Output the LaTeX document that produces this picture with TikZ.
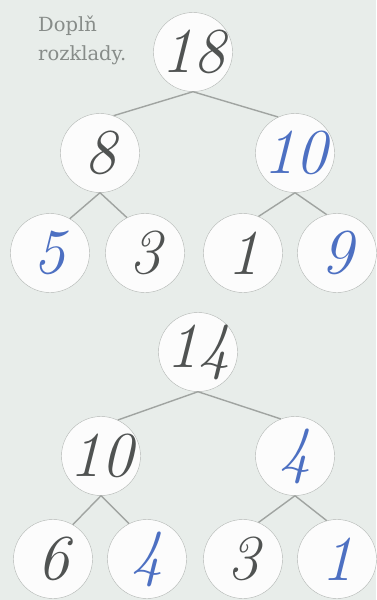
\documentclass[tikz,border=0pt]{standalone}
\usepackage{fontspec}
\newfontfamily\notefont{DejaVu Serif}
\usetikzlibrary{positioning}
\definecolor{paper}{HTML}{E8EDEA}
\definecolor{rim}{HTML}{B2B6B3}
\definecolor{pencil}{HTML}{505352}
\definecolor{ink}{HTML}{4D70C2}
\definecolor{note}{HTML}{878C89}
\tikzset{line width=1.5pt,
  ball/.style={circle,draw=rim,fill=white!85!paper,minimum size=79pt,inner sep=-10pt,
    font=\fontsize{64}{64}\selectfont\itshape,text=pencil},
  filled/.style={ball,text=ink},
  branch/.style={draw=rim!90!black,line width=1.4pt}}
\begin{document}
\begin{tikzpicture}[x=1pt,y=-1pt]
\fill[paper] (0,0) rectangle (376,600);\useasboundingbox (0,0) rectangle (376,600);
\node[anchor=north west,align=left,font=\notefont\fontsize{19.5}{29}\selectfont,text=note,inner sep=0pt] (task) at (38,16) {Doplň\\rozklady.};
% first tree: 18 = 8 + 10
\node[ball] (a) at (193,52) {18};
\node[ball] (al) at (100,153) {8};\node[filled] (ar) at (295,153) {10};
\node[filled] (all) at (50,253) {5};\node[ball] (alr) at (145,253) {3};
\node[ball] (arl) at (243,253) {1};\node[filled] (arr) at (337,253) {9};
\draw[branch] (a.south)--(al.70) (a.south)--(ar.115);
\draw[branch] (al.south)--(all.60) (al.south)--(alr.117);
\draw[branch] (ar.south)--(arl.67) (ar.south)--(arr.105);
% second tree: 14 = 10 + 4
\node[ball] (b) at (198,352) {14};
\node[ball] (bl) at (101,456) {10};\node[filled] (br) at (295,456) {4};
\node[ball] (bll) at (53,559) {6};\node[filled] (blr) at (147,559) {4};
\node[ball] (brl) at (243,559) {3};\node[filled] (brr) at (337,559) {1};
\draw[branch] (b.south)--(bl.65) (b.south)--(br.111);
\draw[branch] (bl.south)--(bll.60) (bl.south)--(blr.117);
\draw[branch] (br.south)--(brl.67) (br.south)--(brr.105);
\end{tikzpicture}
\end{document}
